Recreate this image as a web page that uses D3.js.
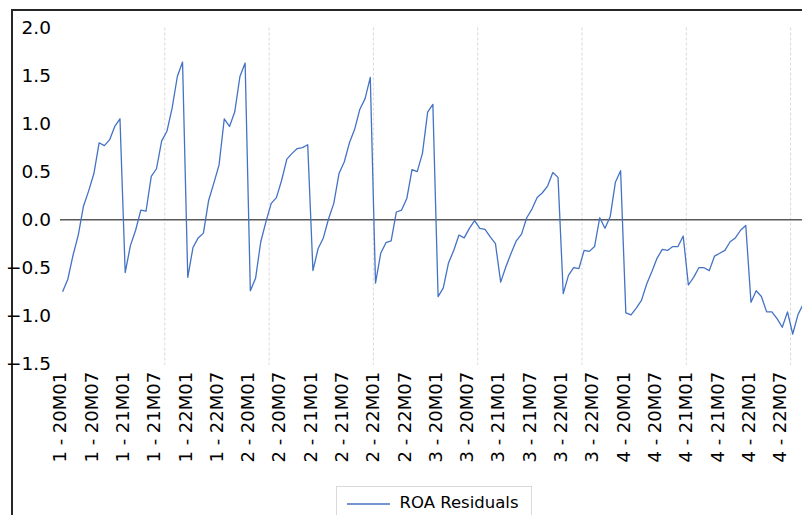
<!DOCTYPE html>
<html>
<head>
<meta charset="utf-8">
<script src="https://cdn.jsdelivr.net/npm/d3@7"></script>
<style>
  body { margin: 0; background: #fff; }
  svg { display: block; }
</style>
</head>
<body>
<div id="chart"></div>
<script>
// panels and months of the x axis
var panels = ['1', '2', '3', '4'];
var months = [];
['20', '21', '22'].forEach(function(yy) {
    for (var m = 1; m <= 12; m++) {
        months.push(yy + 'M' + (m < 10 ? '0' + m : m));
    }
});

// ROA residuals, one per panel-month
var residuals = [
    // panel 1
    -0.75, -0.62, -0.37, -0.16, 0.14, 0.30, 0.48, 0.80, 0.77, 0.83, 0.97, 1.05,
    -0.55, -0.27, -0.11, 0.10, 0.09, 0.45, 0.53, 0.82, 0.92, 1.16, 1.49, 1.64,
    -0.60, -0.29, -0.19, -0.14, 0.20, 0.38, 0.57, 1.05, 0.97, 1.12, 1.49, 1.63,
    // panel 2
    -0.74, -0.61, -0.23, -0.02, 0.17, 0.23, 0.41, 0.63, 0.69, 0.74, 0.75, 0.78,
    -0.53, -0.30, -0.19, 0.01, 0.17, 0.48, 0.60, 0.80, 0.94, 1.15, 1.26, 1.48,
    -0.66, -0.35, -0.24, -0.22, 0.08, 0.10, 0.22, 0.52, 0.50, 0.69, 1.12, 1.20,
    // panel 3
    -0.80, -0.71, -0.45, -0.32, -0.16, -0.19, -0.09, -0.01, -0.09, -0.10, -0.18, -0.25,
    -0.65, -0.49, -0.35, -0.22, -0.15, 0.02, 0.11, 0.23, 0.28, 0.35, 0.49, 0.44,
    -0.77, -0.58, -0.50, -0.51, -0.32, -0.33, -0.28, 0.02, -0.09, 0.03, 0.39, 0.51,
    // panel 4
    -0.97, -0.99, -0.92, -0.84, -0.67, -0.54, -0.40, -0.31, -0.32, -0.28, -0.28, -0.17,
    -0.68, -0.60, -0.50, -0.50, -0.53, -0.38, -0.35, -0.32, -0.23, -0.19, -0.11, -0.06,
    -0.86, -0.74, -0.80, -0.96, -0.96, -1.03, -1.12, -0.96, -1.19, -0.99, -0.88, -0.82
];

var yTicks = [2.0, 1.5, 1.0, 0.5, 0.0, -0.5, -1.0, -1.5];
var seriesName = 'ROA Residuals';

var data = [];
panels.forEach(function(p) {
    months.forEach(function(mo) {
        data.push({ label: p + ' - ' + mo, value: residuals[data.length] });
    });
});

var width = 802, height = 515;
var plotLeft = 60, plotTop = 27.5, plotBottom = 363.8;
var step = 5.215;

var svg = d3.select('#chart').append('svg')
    .attr('width', width)
    .attr('height', height)
    .style('font-family', '"DejaVu Sans", sans-serif');

var x = d3.scaleBand()
    .domain(data.map(function(d) { return d.label; }))
    .range([plotLeft, plotLeft + step * data.length]);

var y = d3.scaleLinear()
    .domain([-1.5, 2.0])
    .range([plotBottom, plotTop]);

// outer frame of the chart (runs off the window on right and bottom)
svg.append('rect')
    .attr('x', 12)
    .attr('y', 10)
    .attr('width', 840)
    .attr('height', 540)
    .attr('fill', 'none')
    .attr('stroke', '#262626')
    .attr('stroke-width', 2);

// vertical dashed gridlines every 20 observations
var grid = svg.append('g');
data.forEach(function(d, i) {
    if (i > 0 && i % 20 == 0) {
        grid.append('line')
            .attr('x1', x(d.label) + 0.5)
            .attr('x2', x(d.label) + 0.5)
            .attr('y1', plotTop)
            .attr('y2', plotBottom + 1)
            .attr('stroke', '#d9d9d9')
            .attr('stroke-width', 1)
            .attr('stroke-dasharray', '3,2');
    }
});

// y axis labels, no axis line
var yAxis = svg.append('g')
    .attr('transform', 'translate(' + (plotLeft - 9) + ',0)')
    .call(d3.axisLeft(y).tickValues(yTicks).tickSize(0).tickPadding(0)
        .tickFormat(d3.format('.1f')));
yAxis.select('.domain').remove();
yAxis.selectAll('text')
    .style('font-family', '"DejaVu Sans", sans-serif')
    .style('font-size', '18.5px')
    .attr('fill', '#000');

// zero line
svg.append('line')
    .attr('x1', plotLeft)
    .attr('x2', width)
    .attr('y1', y(0))
    .attr('y2', y(0))
    .attr('stroke', '#595959')
    .attr('stroke-width', 1.5);

// x axis labels, every 6 months, rotated
var xAxis = svg.append('g')
    .attr('transform', 'translate(-2.5,' + (plotBottom + 8) + ')')
    .call(d3.axisBottom(x)
        .tickValues(data.filter(function(d, i) { return i % 6 == 0; })
            .map(function(d) { return d.label; }))
        .tickSize(0).tickPadding(0));
xAxis.select('.domain').remove();
xAxis.selectAll('text')
    .style('font-family', '"DejaVu Sans", sans-serif')
    .style('font-size', '18px')
    .attr('fill', '#000')
    .attr('text-anchor', 'end')
    .attr('transform', 'rotate(-90)')
    .attr('x', 0)
    .attr('y', 0)
    .attr('dy', '0.35em');

// the series
var line = d3.line()
    .x(function(d) { return x(d.label) + x.bandwidth() / 2; })
    .y(function(d) { return y(d.value); });

svg.append('path')
    .datum(data)
    .attr('d', line)
    .attr('fill', 'none')
    .attr('stroke', '#4472c4')
    .attr('stroke-width', 1.3)
    .attr('stroke-linejoin', 'round');

// legend
var legend = svg.append('g');
legend.append('rect')
    .attr('x', 336.5)
    .attr('y', 486.5)
    .attr('width', 195)
    .attr('height', 40)
    .attr('fill', '#fff')
    .attr('stroke', '#d9d9d9')
    .attr('stroke-width', 1);
legend.append('line')
    .attr('x1', 347)
    .attr('x2', 390)
    .attr('y1', 504)
    .attr('y2', 504)
    .attr('stroke', '#4472c4')
    .attr('stroke-width', 1.3);
legend.append('text')
    .attr('x', 399.5)
    .attr('y', 507.5)
    .style('font-size', '16.5px')
    .attr('fill', '#000')
    .text(seriesName);
</script>
</body>
</html>
